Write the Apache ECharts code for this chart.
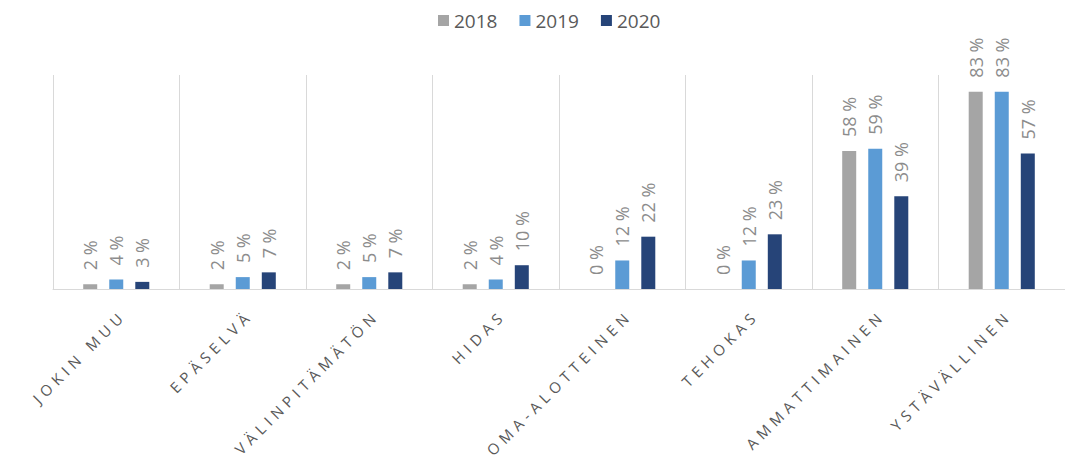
<!DOCTYPE html>
<html>
<head>
<meta charset="utf-8">
<script src="https://cdn.jsdelivr.net/npm/echarts@6/dist/echarts.min.js"></script>
<style>
  html, body { margin: 0; padding: 0; background: #ffffff; }
  #chart { width: 1065px; height: 462px; }
</style>
</head>
<body>
<div id="chart"></div>
<script>
// Categories (x axis) and yearly shares in percent
const categories = ['JOKIN MUU', 'EPÄSELVÄ', 'VÄLINPITÄMÄTÖN', 'HIDAS', 'OMA-ALOTTEINEN', 'TEHOKAS', 'AMMATTIMAINEN', 'YSTÄVÄLLINEN'];
const years = ['2018', '2019', '2020'];
const values2018 = [2, 2, 2, 2, 0, 0, 58, 83];
const values2019 = [4, 5, 5, 4, 12, 12, 59, 83];
const values2020 = [3, 7, 7, 10, 22, 23, 39, 57];

const colors = ['#a5a5a5', '#5b9bd5', '#264478'];
const font = '"Open Sans", "Noto Sans", sans-serif';

function barSeries(name, data, color) {
  return {
    name: name,
    type: 'bar',
    data: data,
    barWidth: 14,
    barGap: '86%',
    itemStyle: { color: color },
    label: {
      show: true,
      position: 'top',
      distance: 14,
      rotate: 90,
      align: 'left',
      verticalAlign: 'middle',
      formatter: '{c} %',
      color: '#8c8c8c',
      fontSize: 18,
      fontFamily: font
    }
  };
}

// Widen the tracking of the category labels (SVG text) and nudge them
// across the baseline so the spaced words stay anchored on their category
function spaceCategoryLabels() {
  document.querySelectorAll('#chart svg text').forEach(function (t) {
    if (categories.indexOf(t.textContent.trim()) >= 0) {
      t.style.letterSpacing = '5px';
      t.setAttribute('letter-spacing', '5');
      t.setAttribute('dx', '4');
      t.setAttribute('dy', '6');
    }
  });
}

const chart = echarts.init(document.getElementById('chart'), null, { renderer: 'svg' });
chart.on('finished', spaceCategoryLabels);
chart.setOption({
  animation: false,
  backgroundColor: '#ffffff',
  legend: {
    data: years,
    top: 6,
    left: 433,
    itemWidth: 11,
    itemHeight: 11,
    itemGap: 22,
    icon: 'rect',
    textStyle: { color: '#595959', fontSize: 19, fontFamily: font }
  },
  grid: { left: 53, right: 0, top: 75, bottom: 173, containLabel: false },
  xAxis: {
    type: 'category',
    data: categories,
    axisLine: { lineStyle: { color: '#d9d9d9', width: 1 } },
    axisTick: { show: false },
    splitLine: { show: true, lineStyle: { color: '#d9d9d9', width: 1 } },
    axisLabel: {
      interval: 0,
      rotate: 45,
      margin: 22,
      color: '#595959',
      fontSize: 15,
      fontFamily: font
    }
  },
  yAxis: {
    type: 'value',
    min: 0,
    max: 90,
    show: false,
    splitLine: { show: false }
  },
  series: [
    barSeries(years[0], values2018, colors[0]),
    barSeries(years[1], values2019, colors[1]),
    barSeries(years[2], values2020, colors[2])
  ]
});
spaceCategoryLabels();
setTimeout(spaceCategoryLabels, 0);
</script>
</body>
</html>
